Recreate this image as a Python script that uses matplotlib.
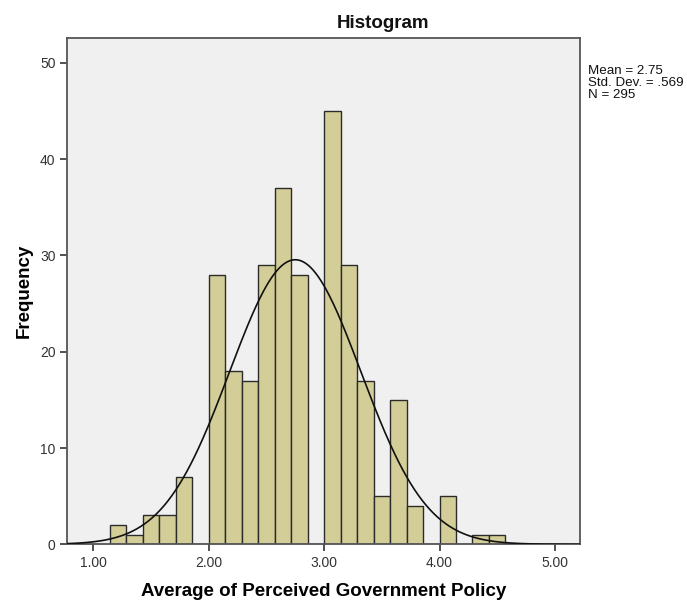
import numpy as np
import matplotlib
matplotlib.use('Agg')
import matplotlib.pyplot as plt

plt.rcParams['font.family'] = ['Liberation Sans', 'DejaVu Sans']

# bin edges are multiples of 1/7, starting at 8/7
bin_start = [8 / 7 + i / 7 for i in range(24)]
bin_width = 1 / 7
counts = [2, 1, 3, 3, 7, 0,
          28, 18, 17, 29, 37, 28, 0,
          45, 29, 17, 5, 15, 4, 0,
          5, 0, 1, 1]

mean = 2.75
std_dev = 0.569
n = 295

fig = plt.figure(figsize=(6.87, 6.04), dpi=100)
ax = fig.add_axes([0.098, 0.0988, 0.7467, 0.8388])
ax.set_facecolor('#f0f0f0')

ax.bar(bin_start, counts, width=bin_width, align='edge',
       color='#d3ce98', edgecolor='#2b2b2b', linewidth=1.0, zorder=2)

# normal curve scaled to counts
xs = np.linspace(0.775, 5.22, 400)
ys = n * bin_width / (std_dev * np.sqrt(2 * np.pi)) * np.exp(-0.5 * ((xs - mean) / std_dev) ** 2)
ax.plot(xs, ys, color='#111111', linewidth=1.2, zorder=3)

ax.set_xlim(0.775, 5.22)
ax.set_ylim(0, 52.6)
ax.set_xticks([1, 2, 3, 4, 5])
ax.set_xticklabels(['1.00', '2.00', '3.00', '4.00', '5.00'])
ax.set_yticks([0, 10, 20, 30, 40, 50])
ax.tick_params(axis='both', labelsize=10, colors='#333333', length=5, width=1.2, direction='out')
for s in ax.spines.values():
    s.set_color('#555555')
    s.set_linewidth(1.3)

fig.text(0.5575, 0.9536, 'Histogram', fontsize=13.5, fontweight='bold',
         ha='center', va='baseline', color='#111111')
ax.set_xlabel('Average of Perceived Government Policy', fontsize=13.5, fontweight='bold', labelpad=9)
ax.set_ylabel('Frequency', fontsize=13.5, fontweight='bold', labelpad=5)

fig.text(0.856, 0.892, 'Mean = 2.75\nStd. Dev. = .569\nN = 295', fontsize=9.6,
         va='top', ha='left', linespacing=1.0, color='#111111')

fig.savefig('out.png', dpi=100)
